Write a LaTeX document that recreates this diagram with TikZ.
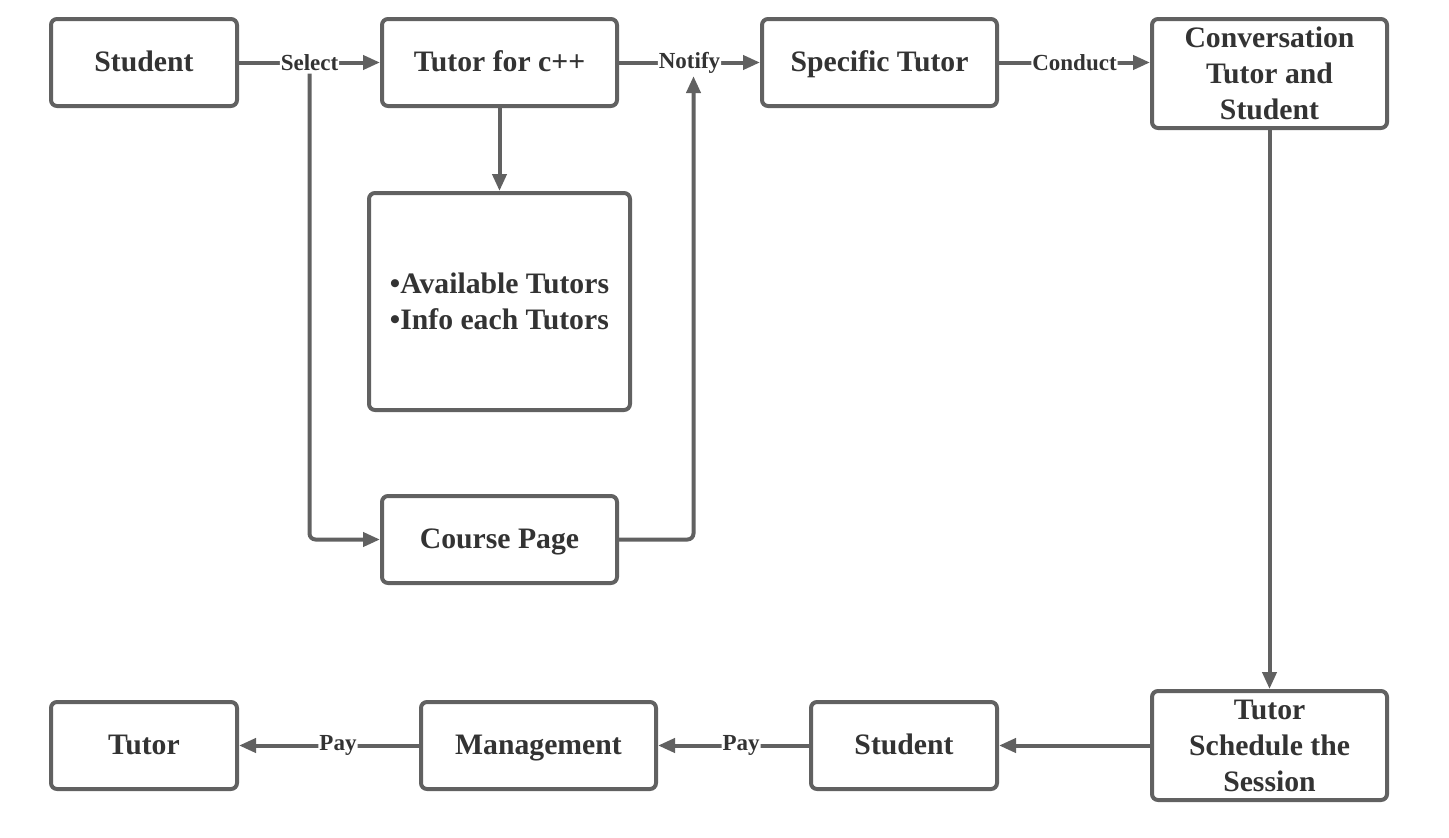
\documentclass[tikz,border=0pt]{standalone}
\usepackage{fontspec}
\setmainfont{Liberation Serif}
\usetikzlibrary{arrows.meta}
\definecolor{linegray}{HTML}{616161}
\definecolor{textgray}{HTML}{333333}
\tikzstyle{block} = [rectangle, rounded corners=6pt, minimum width=235pt, minimum height=87pt, text centered, align=center, draw=linegray, line width=4pt, fill=white, text=textgray, font=\fontsize{29.7}{36}\selectfont\bfseries]
\tikzstyle{oneline} = [block, text height=22pt, text depth=5pt]
\tikzstyle{lbl} = [fill=white, inner sep=1pt, text=textgray, font=\fontsize{23}{26}\selectfont\bfseries]
\tikzstyle{arrow} = [draw=linegray, line width=4pt, rounded corners=6pt, -{Triangle[length=17pt,width=14pt]}]

\begin{document}
\begin{tikzpicture}[x=1pt, y=-1pt]
\useasboundingbox (0,0) rectangle (1449,838);
% top row
\node (stu) [oneline, minimum width=186pt] at (144,62.5) {Student};
\node (tut) [oneline] at (499.5,62.5) {Tutor for c++};
\node (spec) [oneline] at (879.5,62.5) {Specific Tutor};
\node (conv) [block, minimum height=109pt] at (1269.5,73.5) {Conversation\\Tutor and\\Student};
% middle
\node (avail) [block, minimum width=261pt, minimum height=217pt, align=left] at (499.5,301.5) {•Available Tutors\\•Info each Tutors};
\node (course) [oneline] at (499.5,539.5) {Course Page};
% bottom row
\node (sched) [block, minimum height=109pt] at (1269.5,745.5) {Tutor\\Schedule the\\Session};
\node (stu2) [oneline, minimum width=186pt] at (904,745.5) {Student};
\node (mgmt) [oneline] at (538.5,745.5) {Management};
\node (tutor) [oneline, minimum width=186pt] at (144,745.5) {Tutor};

\draw [arrow] (stu) -- node[lbl] (sel) {Select} (tut);
\draw [arrow] (tut) -- node[lbl] (ntf) {Notify} (spec);
\draw [arrow] (spec.east) -- node[lbl] {Conduct} (spec.east -| conv.west);
\draw [arrow] (sel.south) |- (course.west);
\draw [arrow] (course.east) -| ([xshift=4pt]ntf.south);
\draw [arrow] (tut) -- (avail);
\draw [arrow] (conv) -- (sched);
\draw [arrow] (sched) -- (stu2);
\draw [arrow] (stu2) -- node[lbl, pos=0.45] {Pay} (mgmt);
\draw [arrow] (mgmt) -- node[lbl, pos=0.45] {Pay} (tutor);
\end{tikzpicture}
\end{document}
